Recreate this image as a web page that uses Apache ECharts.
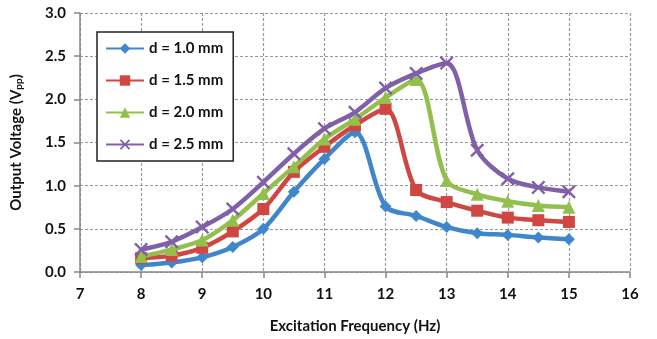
<!DOCTYPE html>
<html>
<head>
<meta charset="utf-8">
<script src="https://cdn.jsdelivr.net/npm/echarts@6/dist/echarts.min.js"></script>
<style>
  html, body { margin: 0; padding: 0; background: #fff; }
  #chart { width: 657px; height: 339px; }
</style>
</head>
<body>
<div id="chart"></div>
<script>
// frequencies (Hz)
const freqs = [8, 8.5, 9, 9.5, 10, 10.5, 11, 11.5, 12, 12.5, 13, 13.5, 14, 14.5, 15];

// output voltage (Vpp) per gap d
const d10 = [0.08, 0.11, 0.17, 0.29, 0.50, 0.93, 1.31, 1.62, 0.76, 0.65, 0.52, 0.45, 0.43, 0.40, 0.38];
const d15 = [0.16, 0.19, 0.28, 0.47, 0.73, 1.16, 1.45, 1.70, 1.89, 0.95, 0.81, 0.71, 0.63, 0.60, 0.58];
const d20 = [0.18, 0.26, 0.37, 0.60, 0.91, 1.22, 1.54, 1.77, 2.02, 2.23, 1.06, 0.90, 0.82, 0.77, 0.75];
const d25 = [0.26, 0.35, 0.52, 0.73, 1.04, 1.37, 1.66, 1.85, 2.13, 2.30, 2.42, 1.41, 1.08, 0.98, 0.93];

const seriesNames = ['d = 1.0 mm', 'd = 1.5 mm', 'd = 2.0 mm', 'd = 2.5 mm'];
const colors = ['#3f86cc', '#cf4642', '#93bf4c', '#8060a8'];

const crossPath = 'path://M0,1.2 L1.2,0 L5,3.8 L8.8,0 L10,1.2 L6.2,5 L10,8.8 L8.8,10 L5,6.2 L1.2,10 L0,8.8 L3.8,5 Z';
const symbols = ['diamond', 'rect', 'triangle', crossPath];
const symbolSizes = [12, 12, 13, 14];

const pair = arr => freqs.map((f, i) => [f, arr[i]]);
const allData = [d10, d15, d20, d25];

const chart = echarts.init(document.getElementById('chart'));

const font = 'Lato, "Open Sans", sans-serif';

const option = {
  backgroundColor: '#fff',
  animation: false,
  color: colors,
  grid: { left: 80, right: 27, top: 13, bottom: 66 },
  legend: {
    orient: 'vertical',
    left: 97,
    top: 32,
    backgroundColor: '#fff',
    borderColor: '#222',
    borderWidth: 1.5,
    borderRadius: 0,
    padding: [9, 10, 9, 8],
    itemWidth: 38,
    itemHeight: 13,
    itemGap: 17,
    textStyle: { fontFamily: font, fontWeight: 'bold', fontSize: 15, color: '#111' },
    data: seriesNames
  },
  xAxis: {
    type: 'value',
    min: 7,
    max: 16,
    interval: 1,
    name: 'Excitation Frequency (Hz)',
    nameLocation: 'middle',
    nameGap: 47,
    nameTextStyle: { fontFamily: font, fontWeight: 'bold', fontSize: 15, color: '#111' },
    axisLine: { lineStyle: { color: '#888', width: 1.5 } },
    axisTick: { show: true, length: 6, lineStyle: { color: '#888', width: 1.5 } },
    axisLabel: { fontFamily: font, fontWeight: 'bold', fontSize: 15, color: '#111', margin: 15 },
    splitLine: { show: true, lineStyle: { color: '#999', type: [3, 2], width: 1.2 } }
  },
  yAxis: {
    type: 'value',
    min: 0,
    max: 3,
    interval: 0.5,
    name: '{a|Output Voltage (V}{b|pp}{a|)}',
    nameLocation: 'middle',
    nameGap: 56,
    nameTextStyle: {
      rich: {
        a: { fontFamily: font, fontWeight: 'bold', fontSize: 15, color: '#111' },
        b: { fontFamily: font, fontWeight: 'bold', fontSize: 10, color: '#111', verticalAlign: 'bottom', padding: [6, 0, 0, 0] }
      }
    },
    axisLine: { show: true, lineStyle: { color: '#888', width: 1.5 } },
    axisTick: { show: true, length: 6, lineStyle: { color: '#888', width: 1.5 } },
    axisLabel: {
      fontFamily: font, fontWeight: 'bold', fontSize: 15, color: '#111', margin: 14,
      formatter: v => v.toFixed(1)
    },
    splitLine: { show: true, lineStyle: { color: '#999', type: [3, 2], width: 1.2 } }
  },
  series: seriesNames.map((name, k) => ({
    name: name,
    type: 'line',
    data: pair(allData[k]),
    smooth: 0.3,
    symbol: symbols[k],
    symbolSize: symbolSizes[k],
    showAllSymbol: true,
    lineStyle: { width: 4.5, color: colors[k] },
    itemStyle: { color: colors[k] },
    z: 2 + k
  }))
};

chart.setOption(option);
</script>
</body>
</html>
